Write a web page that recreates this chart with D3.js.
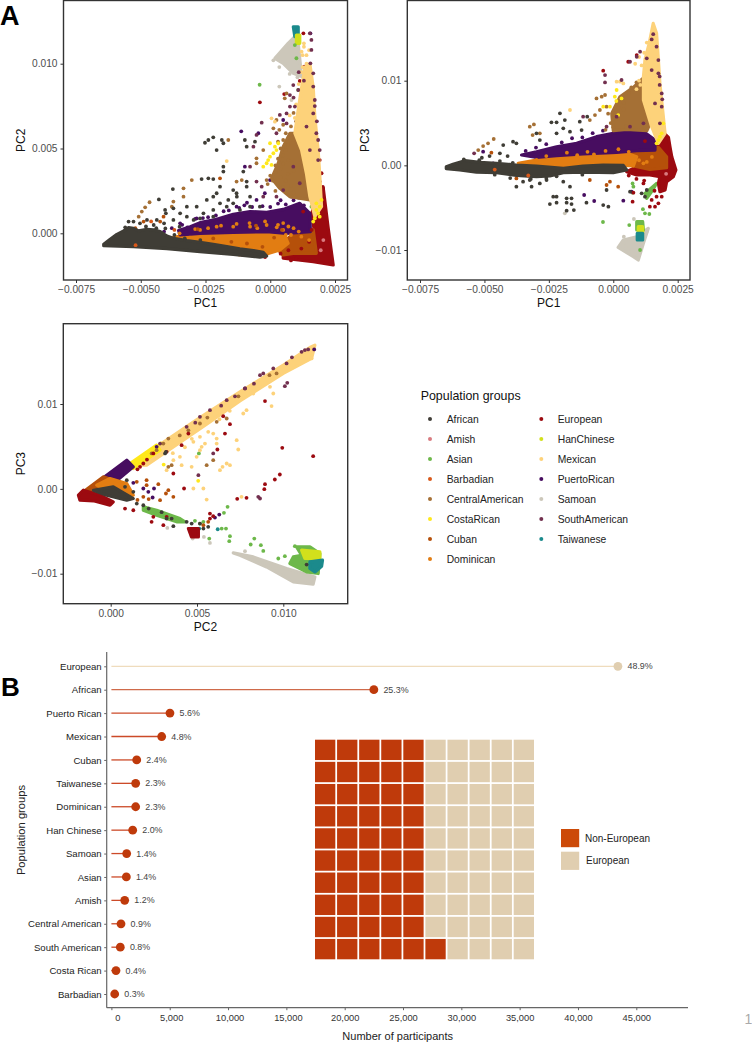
<!DOCTYPE html>
<html><head><meta charset="utf-8">
<script src="https://cdn.jsdelivr.net/npm/d3@7"></script>
<style>html,body{margin:0;padding:0;background:#fff}svg{display:block}text{font-family:"Liberation Sans",Arial,sans-serif}.cloud{filter:blur(.3px)}</style>
</head><body><svg id="c" width="752" height="1043"></svg>
<script>
// ---------- legend ----------
const groupNames = ["African","Amish","Asian","Barbadian","CentralAmerican","CostaRican","Cuban","Dominican","European","HanChinese","Mexican","PuertoRican","Samoan","SouthAmerican","Taiwanese"];
const groupColors = ["#3f3d36","#d97b80","#6db84a","#d9591a","#a57035","#ffe81a","#b5500a","#e27d12","#9c0a10","#d2e01c","#fdd27a","#470d60","#ccc7ba","#72304f","#1b8a8c"];

// ---------- PC1 / PC2 : dense regions (outlines) ----------
const african12Core = [[-0.00643,-0.00065],[-0.00618,-0.00035],[-0.00592,-0.00006],[-0.00566,0.00014],[-0.00547,0.00033],[-0.00528,0.00029],[-0.00508,0.00014],[-0.00476,0.00024],[-0.00451,0.0002],[-0.00425,0.0001],[-0.00399,-0.00016],[-0.00374,-0.00029],[-0.00322,-0.00043],[-0.00271,-0.00053],[-0.0022,-0.00065],[-0.00168,-0.00079],[-0.00117,-0.00092],[-0.00065,-0.00102],[-0.00027,-0.00112],[-0.00014,-0.00134],[-0.0004,-0.00141],[-0.00143,-0.00124],[-0.00271,-0.00108],[-0.00399,-0.0009],[-0.00528,-0.00079],[-0.00643,-0.00073]];
const puertoRican12Core = [[-0.00354,0.00016],[-0.00309,0.00039],[-0.00271,0.00063],[-0.00207,0.00083],[-0.00143,0.00112],[-0.00078,0.00128],[-0.00014,0.00124],[0.0005,0.00141],[0.00114,0.00177],[0.00153,0.00118],[0.00155,0.0001],[0.00063,0],[-0.00014,0.0001],[-0.00143,0.00006],[-0.00271,0],[-0.00348,-0.0001]];
const dominican12Core = [[-0.00374,-0.00024],[-0.00322,-0.0001],[-0.00271,0.0001],[-0.00207,0],[-0.00143,0.0001],[-0.00078,0.0001],[-0.00014,0.0002],[0.0005,0.0001],[0.00069,-0.00059],[0.00037,-0.00098],[-0.00014,-0.00122],[-0.00117,-0.00088],[-0.0022,-0.00059],[-0.00322,-0.00049]];
const cuban12Core = [[0.00024,-0.00088],[0.00076,-0.0002],[0.00166,0.0002],[0.00178,-0.00118],[0.00089,-0.00118],[0.0005,-0.00128]];
const european12Core = [[0.00159,0.00118],[0.00204,0.00275],[0.00223,0.00039],[0.00243,-0.00187],[0.00166,-0.00167],[0.0005,-0.00147],[0.0005,-0.00122],[0.00178,-0.00112],[0.00172,0]];
const centralAmerican12Core = [[0.00005,0.00324],[0.00031,0.00413],[0.0005,0.00511],[0.00076,0.0059],[0.00121,0.0059],[0.00153,0.00197],[0.00076,0.00216],[0.00037,0.00265]];
const mexican12Core = [[0.00095,0.0059],[0.00108,0.0073],[0.00121,0.0086],[0.00134,0.0098],[0.00153,0.0100],[0.00166,0.0086],[0.00172,0.0069],[0.00185,0.0049],[0.00191,0.0035],[0.00198,0.00157],[0.00172,0.00098],[0.00153,0.00216],[0.0014,0.0035],[0.00121,0.0049]];
const samoan12Core = [[0.00018,0.01032],[0.00069,0.0112],[0.00095,0.01159],[0.00108,0.0112],[0.00121,0.00924],[0.00089,0.00943],[0.0005,0.01002]];
const taiwanese12Core = [[0.00089,0.01218],[0.00108,0.01218],[0.00108,0.01159],[0.00095,0.01159]];
const han12Core = [[0.00101,0.01169],[0.00114,0.01169],[0.00114,0.0112],[0.00101,0.0112]];

// ---------- PC1 / PC2 : individual points ----------
const african12 = [[-0.00252,0.00534],[-0.00239,0.0055],[-0.0022,0.00566],[-0.00187,0.0055],[-0.00181,0.00531],[-0.00207,0.00491],[-0.00098,0.0055],[-0.00091,0.00511],[-0.00059,0.0054],[-0.00181,0.00393],[-0.00181,0.00364],[-0.00265,0.0032],[-0.00239,0.00324],[-0.0022,0.0032],[-0.00194,0.00275],[-0.00207,0.00236],[-0.0022,0.00216],[-0.00143,0.00255],[-0.0013,0.00236],[-0.00162,0.00197],[-0.00143,0.00177],[-0.00168,0.00157],[-0.0022,0.00138],[-0.00258,0.00118],[-0.00284,0.00157],[-0.00322,0.00157],[-0.00348,0.00118],[-0.00374,0.00147],[-0.00403,0.00118],[-0.00376,0.00261],[-0.0043,0.002],[-0.00406,0.00138],[-0.00438,0.00079],[-0.00476,0.00079],[-0.00528,0.00069],[-0.00547,0.00069],[-0.00374,0.00079],[-0.00322,0.00098],[-0.00296,0.00079],[-0.00271,0.00088],[-0.0022,0.00098],[-0.00117,0.00138],[-0.00078,0.00157],[-0.0004,0.00157],[-0.00104,0.00364],[-0.00091,0.00305],[-0.00129,0.00216],[-0.00078,0.00216],[-0.00091,0.00275],[-0.00245,0.00197],[-0.00194,0.00177],[-0.0045,0.00049],[-0.0041,0.00059],[-0.0035,0.00039],[-0.00405,0.00029],[-0.00503,0.00059],[-0.0056,0.00035],[-0.0048,0.0004],[-0.0044,0.0003],[-0.0037,-0.0001],[-0.0033,-0.0003],[-0.0027,-0.0004]];
const puertoRican12 = [[-0.00112,0.00601],[-0.00046,0.0059],[-0.00021,0.00236],[-0.00053,0.00197],[-0.00098,0.00393],[-0.00001,0.00314],[0.00063,0.00285],[-0.0013,0.00157],[-0.00348,0.00059],[-0.00284,0.00088],[-0.00464,-0.00079],[0.0005,0.00668],[0.00155,0.01179],[0.00082,0.00216],[0.00101,0.00246],[-0.0019,0.00085],[-0.0009,0.0018],[0.0004,0.00195],[-0.0032,0.00035],[-0.0029,0.00085],[-0.0024,0.00095],[-0.0021,0.00105],[-0.0018,0.0013],[-0.0016,0.00135],[-0.0012,0.0015],[-0.0010,0.00165],[-0.0007,0.00155],[-0.0003,0.0016],[0,0.00155],[0.0003,0.00175],[0.0006,0.0017],[0.0009,0.00195],[0.0011,0.0021],[0.0013,0.00165],[-0.0026,0.0009],[-0.0034,0.0005],[-0.0038,0.0003],[-0.0041,0.0001]];
const dominican12 = [[-0.00271,0.0002],[-0.00207,0.00039],[-0.00143,0.00039],[-0.00078,0.00039],[-0.00014,0.00049],[0.0005,0.0002],[-0.0031,-0.00025],[-0.0012,-0.00125],[0.00025,0.00035],[0.0008,-0.0001],[-0.0019,0.00045],[-0.0013,0.00055],[-0.0008,0.0006],[-0.0002,0.0007],[0.0003,0.0005],[0.0007,0.0004],[0.0011,0.0001],[0.0009,0.0003],[-0.0024,0.0003],[-0.0029,0.00025],[-0.0035,0],[-0.0039,-0.0003],[-0.0005,0.0003],[0.0005,0.0006],[0.0006,-0.0001],[0.0012,-0.0002],[0.0015,-0.0004]];
const cuban12 = [[-0.00425,0.00069],[-0.00489,0.00069],[-0.00521,0.0003],[-0.00412,0.00098],[-0.00194,0.00324],[-0.00374,-0.00069],[-0.00528,-0.00073],[-0.00271,-0.00098],[-0.00055,0.00045],[0.00015,-0.00025],[0.00045,0.0002],[-0.0028,0.00025],[-0.0022,-0.0003],[-0.0015,-0.0005],[-0.0009,-0.0006],[-0.0003,-0.0008]];
const european12 = [[-0.0004,0.00772],[0.00128,0.01179],[0.00054,0.00821],[0.00114,0.00898],[0.00131,0.00982],[0.00191,0.00432],[0.00185,0.00364],[0.00198,0.00354],[0.00191,0.00305],[0.00204,0.00265],[0.00204,0.00216],[0.00127,0.00128],[0.00153,0.00472],[-0.0011,-0.00125],[-0.0006,-0.0012],[0.0004,-0.0012],[0.0007,-0.0010],[0.0010,-0.0015],[0.0012,-0.0009],[0.0015,-0.0005],[0.0016,0.0002],[0.0017,0.0006],[0.0008,-0.0016],[-0.0002,-0.0014],[-0.001,-0.00115]];
const centralAmerican12 = [[-0.00508,0.00098],[-0.00496,0.00128],[-0.00483,0.00153],[-0.00466,0.00183],[-0.00162,0.0055],[-0.00303,0.00314],[-0.00335,0.00265],[-0.00335,0.00216],[-0.00374,0.00187],[-0.0038,0.00157],[-0.0013,0.00305],[-0.0011,0.00314],[-0.00053,0.00413],[-0.00053,0.00442],[0.00012,0.00619],[0.00024,0.00668],[0.00056,0.00796],[0.00063,0.00825],[-0.00027,0.00491],[-0.00014,0.00314],[0.00035,0.0061],[0.0005,0.0064],[0,0.0034],[0.0001,0.0031],[0.0003,0.0029],[0.0005,0.0027],[0.0002,0.0036],[0.0004,0.0033],[0.0006,0.0031],[0.0002,0.0040],[0.0004,0.0038],[0.0005,0.0041],[0.0003,0.0044],[0.0005,0.0046],[0.0007,0.0043],[0.0006,0.0049],[0.0004,0.0050],[0.0003,0.0054],[0.0005,0.0055],[0.0007,0.0052],[0.0008,0.0058],[0.0006,0.0059],[0.0008,0.0063],[0.0009,0.0055],[0.0009,0.0037],[0.0007,0.0035],[0.0008,0.0028],[0.0006,0.0024],[0.0009,0.0024],[-0.0001,0.0029],[0.0002,0.0025],[0.0010,0.0061],[0.0010,0.0066],[0.0009,0.0071]];
const mexican12 = [[-0.00168,0.00426],[0.00005,0.00678],[0.00018,0.00658],[0.00121,0.01071],[0.0013,0.0110],[0.00125,0.0098],[0.00118,0.0078],[0.00095,0.0068],[0.00075,0.00695],[0.00125,0.0105],[0.0013,0.0112],[0.0014,0.0105],[0.0014,0.0100],[0.0012,0.0095],[0.0011,0.0088],[0.0015,0.0108],[0.0010,0.0076],[0.0011,0.0070],[0.0013,0.0078]];
const costaRican12 = [[-0.00027,0.00393],[-0.00014,0.00413],[-0.00001,0.00452],[0.00012,0.00472],[0.00024,0.00491],[-0.00001,0.00531],[0.00018,0.00511],[0.00031,0.00531],[-0.00008,0.00432],[0.00005,0.00403],[0.00178,0.00138],[0.00191,0.00157],[0.00185,0.00118],[0.00172,0.00088],[0.00198,0.00197],[0.00191,0.00098],[0.00166,0.00069],[0.00178,0.00177]];
const southAmerican12 = [[0.00153,0.01179],[0.00159,0.0114],[0.00159,0.01081],[0.00155,0.01002],[0.00166,0.00943],[0.00166,0.00865],[0.00172,0.00786],[0.00166,0.00707],[0.00178,0.0059],[0.00191,0.00491],[0.00185,0.00432],[0.00089,0.00874],[0.00108,0.00845],[0.00076,0.00815],[0.00076,0.00747],[0.00095,0.00747],[0.00063,0.00707],[0.00063,0.00648],[0.00037,0.00698],[0.00024,0.0059],[-0.00033,0.00652],[-0.00053,0.0058],[-0.00065,0.00511],[-0.00078,0.00393],[-0.00053,0.00305],[-0.00033,0.00275],[-0.00027,0.00216],[0.00024,0.00216],[0.0005,0.00255],[0.00089,0.00393],[0.00114,0.00295],[0.0014,0.00629],[0.00153,0.00491],[0.0011,0.0095],[0.0009,0.0080],[0.0013,0.0090],[0.00172,0.0075],[0.0018,0.0066],[0.00185,0.0055]];
const asian12 = [[-0.00041,0.00876],[0.00095,0.0111],[0.00101,0.01032],[0.00121,0.00688],[0.00127,0.00383],[0.00134,0.00314],[0.0014,0.00255],[0.00159,0.00157],[0.00108,0.00845]];
const samoan12 = [[0.00035,0.00865],[0.00082,0.00786],[0.00075,0.0094],[0.00012,0.0102],[0.00035,0.0098],[0.00105,0.0092]];
const barbadian12 = [[-0.0046,0.0007],[-0.0037,0.0002],[-0.0052,-0.0007]];
const amish12 = [[0.00195,-0.0010],[0.00205,-0.0004]];

// ---------- PC1 / PC3 : dense regions ----------
const african13Core = [[-0.00648,-0.00016],[-0.00622,0.00012],[-0.00576,0.00055],[-0.00518,0.00035],[-0.00453,0.00024],[-0.00376,0.00004],[-0.00298,-0.00008],[-0.00194,-0.00035],[-0.00117,-0.00008],[-0.00039,0.00004],[0.00039,0],[0.00052,-0.00055],[0,-0.00087],[-0.00117,-0.00079],[-0.00194,-0.00087],[-0.00246,-0.00126],[-0.00298,-0.00134],[-0.00376,-0.00118],[-0.00453,-0.00087],[-0.00531,-0.00079],[-0.00596,-0.00055],[-0.00648,-0.00039]];
const dominican13Core = [[-0.00369,0.00024],[-0.00298,0.00063],[-0.0022,0.00102],[-0.00117,0.00122],[-0.00013,0.00122],[0.00052,0.00142],[0.00091,0.00102],[0.00078,-0.00008],[0.00013,0.00004],[-0.00117,-0.00008],[-0.00194,-0.00028],[-0.00298,-0.00008]];
const puertoRican13Core = [[-0.00356,0.00122],[-0.00298,0.00161],[-0.0022,0.0022],[-0.00142,0.0026],[-0.00065,0.00339],[0,0.00378],[0.00065,0.00417],[0.00117,0.00398],[0.00162,0.00299],[0.00162,0.00181],[0.00091,0.00173],[0.00013,0.00154],[-0.00117,0.00134],[-0.0022,0.00114],[-0.00298,0.00094]];
const cuban13Core = [[0.00052,0.00142],[0.00117,0.00213],[0.00175,0.00213],[0.00207,0.00102],[0.00207,-0.00028],[0.00142,-0.00047],[0.00078,-0.00008]];
const european13Core = [[0.00168,0.0022],[0.00188,0.00299],[0.00201,0.0037],[0.00214,0.00331],[0.0022,0.0022],[0.00227,0.00102],[0.00243,-0.00055],[0.00233,-0.00134],[0.00207,-0.00193],[0.00201,-0.00291],[0.00181,-0.00311],[0.00175,-0.00213],[0.00181,-0.00134],[0.00142,-0.00114],[0.00091,-0.00114],[0.00052,-0.00075],[0.00078,-0.00035],[0.00142,-0.00055],[0.00207,-0.00035],[0.00207,0.00102]];
const centralAmerican13Core = [[-0.00006,0.00614],[0.00026,0.00811],[0.00078,0.00921],[0.00119,0.01039],[0.00149,0.00535],[0.0013,0.00409],[0.00052,0.00425],[0,0.00409]];
const mexican13Core = [[0.00123,0.0125],[0.0014,0.0145],[0.00155,0.01677],[0.00168,0.01559],[0.00175,0.0125],[0.00181,0.00968],[0.00201,0.00378],[0.00175,0.0026],[0.00149,0.00457],[0.00117,0.00772],[0.00117,0.01047]];
const samoan13Core = [[0.00019,-0.00969],[0.00039,-0.00882],[0.00091,-0.00843],[0.00136,-0.00744],[0.00117,-0.00921],[0.00097,-0.01118],[0.00078,-0.01079]];
const asian13Core = [[0.00091,-0.00665],[0.00114,-0.00665],[0.00117,-0.00764],[0.00091,-0.00764]];
const asian13Streak = [[0.00123,-0.00331],[0.00168,-0.00213],[0.00149,-0.00311],[0.0013,-0.0039]];
const han13Core = [[0.00097,-0.00724],[0.00114,-0.00724],[0.00114,-0.00803],[0.00097,-0.00803]];
const taiwanese13Core = [[0.00093,-0.00803],[0.00114,-0.00803],[0.00114,-0.00882],[0.00093,-0.00882]];

// ---------- PC1 / PC3 : individual points ----------
const african13 = [[-0.00207,0.00614],[-0.0024,0.00508],[-0.0022,0.00508],[-0.00188,0.00535],[-0.00194,0.00437],[-0.0013,0.00516],[-0.00123,0.00417],[-0.00101,0.00575],[-0.00168,0.00398],[-0.0022,0.00378],[-0.00285,0.00299],[-0.00376,0.0026],[-0.00389,0.0028],[-0.00427,0.0024],[-0.0044,0.00142],[-0.00298,0.00378],[-0.00376,-0.00252],[-0.00324,-0.00173],[-0.00317,-0.00252],[-0.00285,-0.00213],[-0.00233,-0.0037],[-0.0022,-0.0037],[-0.00246,-0.00457],[-0.0022,-0.00441],[-0.00181,-0.0039],[-0.00162,-0.0039],[-0.00181,-0.00441],[-0.00162,-0.00457],[-0.00181,-0.00535],[-0.00153,-0.00528],[-0.00104,-0.00441],[-0.00039,-0.00469],[-0.00019,-0.00488],[-0.00194,-0.00193],[-0.00168,-0.00252],[-0.00259,-0.00173],[-0.00026,-0.00291],[0.0011,-0.00331],[0.0013,-0.00291],[0.00123,-0.0037],[0.00065,-0.00311],[-0.0035,-0.00193],[-0.0048,0.0011],[-0.0051,0.0009],[-0.0041,0.0011],[-0.0058,0.0007],[-0.0052,0.0006],[-0.0046,-0.0011],[-0.0040,-0.0015],[-0.0032,-0.0016],[-0.0026,-0.0015],[-0.0022,-0.0013],[-0.0012,-0.0011],[-0.0044,0.0005],[-0.0039,0.0003]];
const centralAmerican13 = [[-0.00524,0.00181],[-0.00505,0.00228],[-0.00486,0.0026],[-0.00464,0.00311],[-0.00324,0.00457],[-0.00308,0.00484],[-0.00313,0.00358],[-0.00285,0.00378],[-0.00065,0.00791],[-0.00045,0.00811],[-0.00032,0.00831],[-0.00052,0.00654],[-0.00071,0.00594],[-0.00091,0.00535],[-0.00026,0.00693],[-0.0001,0.0050],[0.0001,0.0055],[0,0.0045],[0.0002,0.0060],[0.0004,0.0066],[0.0002,0.0068],[0.0004,0.0074],[0.0006,0.0085],[0.0003,0.0080],[0.0007,0.0092],[0.0009,0.0098],[-0.0002,0.0061],[0.0005,0.0046],[-0.0003,0.0042]];
const southAmerican13 = [[0.00149,0.01488],[0.00168,0.01402],[0.00175,0.01244],[0.00175,0.01087],[0.00188,0.0085],[0.00188,0.00693],[0.00181,0.00496],[0.00104,0.01343],[0.00091,0.01283],[0.00065,0.01224],[0.00032,0.01008],[-0.00032,0.0098],[-0.00032,0.01067],[0.0013,0.01264],[0.00149,0.01126],[0.00162,0.00732],[-0.00117,0.00575],[-0.00026,0.00457],[0.00013,0.00575],[0.00065,0.00457],[0.00117,0.00496],[-0.0054,0.00142],[0.0018,0.0105],[0.0018,0.0095],[0.0019,0.0078],[0.00155,0.0155]];
const european13 = [[-0.00039,0.01118],[0.00058,0.01224],[0.00091,0.01303],[0.00123,0.00287],[0.00155,0.01323],[0.00078,-0.00323],[0.00075,-0.00429],[0.00149,-0.00409],[0.00162,-0.00488],[0.00142,-0.00488],[0.00175,-0.00449],[0.00168,-0.0037],[0.00117,-0.00213],[0.00188,-0.0037],[0.0006,-0.0012],[0.0009,-0.0016],[0.0012,-0.0018],[0.0016,-0.0030],[0.0019,-0.0025]];
const puertoRican13 = [[-0.00113,-0.0035],[-0.00074,-0.00421],[0.00039,-0.00417],[0.0011,0.00496],[0.00071,-0.00311],[-0.00466,0.00024],[-0.00505,0.00161],[-0.0030,0.0021],[-0.0026,0.0025],[-0.0020,0.0027],[-0.0016,0.0032],[-0.0012,0.0033],[-0.0008,0.0038],[-0.0004,0.0041],[0.0002,0.0043],[0.0006,0.0045],[0.0010,0.0046],[-0.0034,0.0017]];
const cuban13 = [[-0.00376,-0.00154],[0.00019,-0.00252],[-0.00013,-0.00193],[-0.00026,-0.00232],[-0.00091,-0.00173],[-0.00473,0.0015],[-0.00479,-0.00055],[-0.00401,-0.00075],[-0.00259,-0.00095],[-0.00363,-0.00115]];
const dominican13 = [[-0.00298,0.00063],[0.00078,0.00024],[0.00117,0.00024],[-0.00075,0.0013],[-0.0026,0.0011],[-0.0018,0.0015],[-0.0010,0.0016],[-0.0003,0.0017],[0.0006,0.0016],[0.0002,0.0019],[-0.0014,0.0012],[0.0010,0.0006],[0.0013,0.0004],[0.0015,0.0010]];
const asian13 = [[-0.0004,-0.00669],[0.00075,-0.00213],[0.00078,-0.00252],[0.00075,-0.00323],[0.00123,-0.00567],[0.0014,-0.00575],[0.00062,-0.00705],[0.00104,-0.01],[0.00115,-0.00518]];
const samoan13 = [[0.0008,-0.00634],[0.00041,-0.00843],[-0.00188,-0.00567],[0.0013,-0.0078],[0.0005,-0.0095],[0.0006,-0.0102]];
const mexican13 = [[-0.00168,0.00654],[0.00026,0.00988],[0.00039,0.00968],[0.00013,0.00988],[0.00085,0.0120],[0.00105,0.0095],[0.0012,0.0133],[0.0013,0.0145],[0.0010,0.0128],[0.0014,0.0140],[0.0011,0.0118],[0.0010,0.0100],[0.0009,0.0090]];
const costaRican13 = [[0.00013,0.0089],[0.00006,0.00811],[-0.00013,0.00693],[-0.00039,0.00693],[0.00032,0.00791],[0.00019,0.00594],[0.00194,0.00496],[0.00188,0.00378],[0.00175,0.00299],[0.00168,0.0026],[0.00181,0.00339],[0.00012,0.0076]];
const barbadian13 = [[-0.0046,-0.0005],[-0.0033,-0.0012]];
const amish13 = [[0.00205,-0.0010]];

// ---------- PC2 / PC3 : dense regions ----------
const mexican23Core = [[0.00131,0.00279],[0.00266,0.00495],[0.00517,0.00841],[0.00749,0.01143],[0.01,0.01458],[0.01154,0.01666],[0.01183,0.01694],[0.01164,0.01537],[0.01,0.0136],[0.00749,0.01037],[0.00556,0.00762],[0.00363,0.00495],[0.00208,0.00279]];
const costaRican23Core = [[0.00112,0.00299],[0.00266,0.00515],[0.00286,0.00456],[0.00131,0.0024]];
const puertoRican23Core = [[-0.00062,0.00102],[0.00093,0.00338],[0.00131,0.00259],[0.00015,0.00063]];
const cuban23Core = [[-0.00158,-0.00035],[-0.00042,0.00141],[0.00015,0.00102],[0.00073,0.00024],[-0.00004,-0.00055],[-0.001,-0.00075]];
const dominican23Core = [[-0.00081,0.00043],[-0.00004,0.00122],[0.00093,0.00063],[0.00131,-0.00075],[0.00035,-0.00094]];
const european23Core = [[-0.00187,-0.00075],[-0.00158,-0.00016],[-0.00062,-0.00075],[0.00015,-0.00153],[-0.00004,-0.00193],[-0.001,-0.00141],[-0.00178,-0.00134]];
const european23Blob = [[0.0045,-0.00468],[0.00508,-0.00468],[0.00508,-0.00566],[0.00468,-0.00566]];
const african23Core = [[-0.001,-0.00016],[0.00015,0.00024],[0.00131,-0.00114],[0.00093,-0.00134],[-0.00023,-0.00075]];
const asian23Band = [[0.00189,-0.00212],[0.00266,-0.00252],[0.00401,-0.0035],[0.0043,-0.00389],[0.00382,-0.00389],[0.00266,-0.0031],[0.00189,-0.00252]];
const samoan23Core = [[0.0071,-0.00755],[0.00826,-0.00802],[0.01019,-0.00939],[0.01183,-0.01038],[0.01173,-0.01124],[0.01058,-0.01096],[0.00903,-0.0092],[0.00749,-0.00782]];
const asian23Core = [[0.01077,-0.00684],[0.01154,-0.00684],[0.01212,-0.00762],[0.01202,-0.00998],[0.01135,-0.00979],[0.01038,-0.0088],[0.01058,-0.00802],[0.01106,-0.00782]];
const han23Core = [[0.01106,-0.00723],[0.01212,-0.00743],[0.01212,-0.00821],[0.01125,-0.00821]];
const taiwanese23Core = [[0.01154,-0.00861],[0.01227,-0.00841],[0.01222,-0.00912],[0.01183,-0.00979],[0.01154,-0.00939]];

// ---------- PC2 / PC3 : individual points ----------
const mexican23 = [[0.00479,0.00554],[0.00517,0.00613],[0.00565,0.00672],[0.00594,0.00652],[0.00614,0.00593],[0.00614,0.00534],[0.00546,0.00534],[0.00517,0.00456],[0.00498,0.00377],[0.00527,0.00495],[0.0073,0.00574],[0.00739,0.00464],[0.00691,0.00279],[0.00633,0.0022],[0.00648,0.00259],[0.00672,0.00299],[0.00469,0.00259],[0.00411,0.00279],[0.00401,0.00377],[0.00363,0.00338],[0.00324,0.0022],[0.00479,0.00004],[0.00537,0.00004],[0.00556,-0.00126],[0.00768,0.00888],[0.00787,0.00927],[0.00932,0.00975],[0.00923,0.01203],[0.00942,0.01124],[0.00826,0.01124],[0.00758,-0.00094],[0.01164,0.01537],[0.0063,0.0082],[0.0069,0.0092],[0.0043,0.0049],[0.0036,0.0042],[0.0047,0.0059]];
const european23 = [[0.00894,0.01034],[0.00994,0.00483],[0.01173,0.00385],[0.0098,0.00169],[0.00951,0.0011],[0.0089,-0.00004],[0.00894,0.00055],[0.00787,-0.00106],[0.00733,-0.00118],[0.00691,0.00762],[0.00662,0.00652],[0.00618,0.00464],[0.00575,-0.00291],[0.00594,-0.00322],[0.00575,-0.0035],[0.00425,0.00004],[0.00363,0.00181],[0.00411,0.00515],[0.0045,0.00652],[0.00652,0.00857],[0.00247,-0.0033],[0.00237,-0.00389],[0.00305,-0.00428],[0.00324,-0.0033],[0.00131,-0.00252],[0.00083,-0.00232],[0.00189,0.00299],[0.0017,0.00259],[0.00247,0.00417],[0.00324,0.00436],[0.0021,0.00345],[0.00155,0.0023]];
const southAmerican23 = [[0.01125,0.01635],[0.01144,0.01643],[0.01106,0.01615],[0.01019,0.01478],[0.01009,0.0121],[0.01023,0.0125],[0.00865,0.0134],[0.00884,0.0136],[0.00778,0.01183],[0.00672,0.01045],[0.00575,0.00927],[0.0044,0.00731],[0.00517,0.00849],[0.00855,-0.00094],[0.00865,-0.00114],[0.00594,0.00417],[0.00508,0.00161],[0.00286,0.00534],[0.00942,0.01419],[0.0064,0.0098],[0.0072,0.0109],[0.0083,0.0124],[0.0105,0.0155],[0.0049,0.0078]];
const centralAmerican23 = [[0.00556,0.00279],[0.00594,0.00338],[0.00334,0.00259],[0.00353,0.00279],[0.00305,0.00534],[0.00266,0.00456],[0.00237,0.00417],[0.00334,0.00593],[0.00517,0.0077],[0.00614,0.0079],[0.00672,0.00829],[0.00961,0.0136],[0.0040,0.0063],[0.0045,0.0069],[0.0056,0.0084],[0.0074,0.0109],[0.0092,0.0134]];
const puertoRican23 = [[0.01179,0.01643],[0.00266,0.00495],[0.00131,0.00071],[0.00189,0.00004],[0.00218,-0.00035],[0.00243,-0.00102],[0.00251,0.00004],[0.00604,-0.00338],[0.00629,-0.00303],[0.00778,0.01183]];
const cuban23 = [[0.00208,0.00102],[0.00208,0.00043],[0.00151,0.00083],[0.00276,0.00055],[0.0032,-0.00055],[0.00363,-0.00094],[0.00286,-0.00134],[0.00537,-0.00428],[0.00565,-0.00389],[0.00189,-0.00094],[0.00334,-0.00016],[0.00155,-0.0013],[0.0022,-0.0012]];
const african23 = [[0.00151,-0.00173],[0.00189,-0.00193],[0.00324,-0.0035],[0.00353,-0.0035],[0.00315,0.00417],[0.00363,-0.0044],[0.0044,-0.00389],[0.00469,-0.00409],[0.00517,-0.00409],[0.00537,-0.00468],[0.00565,-0.00448],[0.01135,-0.00892],[0.0032,0.00436],[0.00083,0.00024],[0.00131,-0.00035],[0.00093,0.00102],[0.0022,-0.00232],[0.00295,-0.00275]];
const asian23 = [[0.00677,-0.00212],[0.00656,-0.00283],[0.00643,-0.00468],[0.00668,-0.00468],[0.00691,-0.00558],[0.00687,-0.00617],[0.00571,-0.00586],[0.00832,-0.00586],[0.00811,-0.00656],[0.0087,-0.00664],[0.00884,-0.00731],[0.00511,0.00417],[0.00971,-0.00821],[0.01009,-0.00794],[0.01067,-0.00676],[0.00517,-0.00409],[0.00488,-0.00377],[0.00537,-0.00389]];
const samoan23 = [[0.00778,-0.00735],[0.00575,-0.00637],[0.00475,-0.00586],[0.0054,-0.00566],[0.00328,-0.0046]];
const taiwanese23 = [[0.0062,-0.00476],[0.00513,-0.00468]];
const costaRican23 = [[0.00307,0.00286],[0.00507,0.00094],[0.0027,0.0046],[0.0029,0.00535]];

// ---------- B : lollipop ----------
const lollipopGroups = ["European","African","Puerto Rican","Mexican","Cuban","Taiwanese","Dominican","Han Chinese","Samoan","Asian","Amish","Central American","South American","Costa Rican","Barbadian"];
const participants = [43424,22500,5020,4310,2170,2080,2080,1825,1310,1280,1140,823,763,394,283];
const shareLabels = ["48.9%","25.3%","5.6%","4.8%","2.4%","2.3%","2.3%","2.0%","1.4%","1.4%","1.2%","0.9%","0.8%","0.4%","0.3%"];
const countTicks = [0,5000,10000,15000,20000,25000,30000,35000,40000,45000];

// ---------- B : waffle ----------
const waffleNames = ["Non-European","European"];
const waffleCounts = [51,49];
const waffleColors = ["#bf3a0b","#e0ceb0"];
const waffleKeyColors = ["#cc4a08","#e0ceb0"];

// ---------- layers (drawn bottom to top) ----------
const layers12 = [["Samoan",[samoan12Core],samoan12],["Taiwanese",[taiwanese12Core],[]],["HanChinese",[han12Core],[]],["Asian",[],asian12],["European",[european12Core],[]],["Cuban",[cuban12Core],[]],["Dominican",[dominican12Core],[]],["PuertoRican",[puertoRican12Core],puertoRican12],["European",[],european12],["Dominican",[],dominican12],["Cuban",[],cuban12],["CentralAmerican",[centralAmerican12Core],centralAmerican12],["Mexican",[mexican12Core],mexican12],["CostaRican",[],costaRican12],["SouthAmerican",[],southAmerican12],["Amish",[],amish12],["African",[african12Core],african12],["Barbadian",[],barbadian12]];
const layers13 = [["Samoan",[samoan13Core],samoan13],["Asian",[asian13Core,asian13Streak],asian13],["HanChinese",[han13Core],[]],["Taiwanese",[taiwanese13Core],[]],["European",[european13Core],[]],["Cuban",[cuban13Core],[]],["Dominican",[dominican13Core],[]],["PuertoRican",[puertoRican13Core],puertoRican13],["Dominican",[],dominican13],["European",[],european13],["CentralAmerican",[centralAmerican13Core],centralAmerican13],["Mexican",[mexican13Core],mexican13],["CostaRican",[],costaRican13],["SouthAmerican",[],southAmerican13],["Amish",[],amish13],["Cuban",[],cuban13],["African",[african13Core],african13],["Barbadian",[],barbadian13]];
const layers23 = [["Samoan",[samoan23Core],samoan23],["Asian",[asian23Band,asian23Core],asian23],["HanChinese",[han23Core],[]],["Taiwanese",[taiwanese23Core],taiwanese23],["Mexican",[mexican23Core],mexican23],["CostaRican",[costaRican23Core],costaRican23],["PuertoRican",[puertoRican23Core],puertoRican23],["Cuban",[cuban23Core],cuban23],["Dominican",[dominican23Core],[]],["CentralAmerican",[],centralAmerican23],["SouthAmerican",[],southAmerican23],["European",[european23Core,european23Blob],european23],["African",[african23Core],african23]];

// ---------- drawing ----------
const svg = d3.select("#c");
const color = d3.scaleOrdinal(groupNames, groupColors);
const minus = s => s.replace("-", "\u2212");

function panel(cfg) {
  const x = d3.scaleLinear().domain(cfg.xDom).range(cfg.xRange);
  const y = d3.scaleLinear().domain(cfg.yDom).range(cfg.yRange);
  const g = svg.append("g").attr("class", "cloud");
  const line = d3.line().x(d => x(d[0])).y(d => y(d[1])).curve(d3.curveLinearClosed);
  cfg.layers.forEach(([name, cores, pts]) => {
    g.append("g").selectAll("path").data(cores).join("path").attr("d", line)
      .attr("fill", color(name)).attr("stroke", color(name)).attr("stroke-width", 3.2).attr("stroke-linejoin", "round");
    g.append("g").selectAll("circle").data(pts).join("circle")
      .attr("cx", d => x(d[0])).attr("cy", d => y(d[1])).attr("r", 1.9).attr("fill", color(name));
  });
  svg.append("rect").attr("x", cfg.frame[0]).attr("y", cfg.frame[1]).attr("width", cfg.frame[2]-cfg.frame[0]).attr("height", cfg.frame[3]-cfg.frame[1])
    .attr("fill", "none").attr("stroke", "#333").attr("stroke-width", 1.4);
  const ax = svg.append("g").attr("transform", `translate(0,${cfg.frame[3]})`)
    .call(d3.axisBottom(x).tickValues(cfg.xTicks).tickSize(3).tickPadding(3).tickFormat(d => minus(d3.format(cfg.xFmt)(d))));
  const ay = svg.append("g").attr("transform", `translate(${cfg.frame[0]},0)`)
    .call(d3.axisLeft(y).tickValues(cfg.yTicks).tickSize(3).tickPadding(3).tickFormat(d => minus(d3.format(cfg.yFmt)(d))));
  [ax, ay].forEach(a => {
    a.select(".domain").remove();
    a.selectAll(".tick line").attr("stroke", "#333");
    a.selectAll("text").attr("font-size", 10.2).attr("fill", "#4d4d4d").attr("font-family", "Liberation Sans");
  });
  svg.append("text").attr("x", (cfg.frame[0]+cfg.frame[2])/2).attr("y", cfg.frame[3]+27).attr("text-anchor", "middle").attr("font-size", 12).attr("fill", "#111").text(cfg.xTitle);
  svg.append("text").attr("transform", `translate(${cfg.yTitleX},${(cfg.frame[1]+cfg.frame[3])/2}) rotate(-90)`).attr("text-anchor", "middle").attr("font-size", 12).attr("fill", "#111").text(cfg.yTitle);
}

panel({layers:layers12, xDom:[-0.0075,0.0025], xRange:[76,335], yDom:[0,0.01], yRange:[233.3,63.7], frame:[63.5,0.5,347.5,280],
  xTicks:[-0.0075,-0.005,-0.0025,0,0.0025], yTicks:[0,0.005,0.01], xFmt:".4f", yFmt:".3f", xTitle:"PC1", yTitle:"PC2", yTitleX:25});
panel({layers:layers13, xDom:[-0.0075,0.0025], xRange:[420,677.7], yDom:[-0.01,0.01], yRange:[250,80.7], frame:[407.3,0.5,690,280],
  xTicks:[-0.0075,-0.005,-0.0025,0,0.0025], yTicks:[-0.01,0,0.01], xFmt:".4f", yFmt:".2f", xTitle:"PC1", yTitle:"PC3", yTitleX:369});
panel({layers:layers23, xDom:[0,0.01], xRange:[110.7,283.3], yDom:[-0.01,0.01], yRange:[573.7,404], frame:[63.3,323.7,347.7,603.7],
  xTicks:[0,0.005,0.01], yTicks:[-0.01,0,0.01], xFmt:".3f", yFmt:".2f", xTitle:"PC2", yTitle:"PC3", yTitleX:25});

// legend
svg.append("text").attr("x", 420.7).attr("y", 400).attr("font-size", 12.4).attr("fill", "#111").text("Population groups");
const leg = svg.append("g").selectAll("g").data(groupNames).join("g")
  .attr("transform", (d, i) => `translate(${i < 8 ? 430 : 541.3},${419 + (i < 8 ? i : i - 8) * 20})`);
leg.append("circle").attr("r", 2).attr("fill", d => color(d));
leg.append("text").attr("x", (d, i) => i < 8 ? 16.7 : 16.4).attr("dy", "0.35em").attr("font-size", 10.3).attr("fill", "#222").text(d => d);

// panel letters & page number
svg.append("text").attr("x", 0).attr("y", 25).attr("font-size", 27).attr("font-weight", 700).attr("fill", "#000").text("A");
svg.append("text").attr("x", 1).attr("y", 696).attr("font-size", 26).attr("font-weight", 700).attr("fill", "#000").text("B");
svg.append("text").attr("x", 744.5).attr("y", 1024).attr("font-size", 14).attr("fill", "#aaa").text("1");

// lollipop
const bx = d3.scaleLinear().domain([0,45000]).range([111.4,636.3]);
const by = d3.scalePoint().domain(lollipopGroups).range([666.3,994]);
const lineCol = i => i === 0 ? "#efdcbd" : i === 1 ? "#cf6a4a" : "#cc4a28";
const rows = svg.append("g").selectAll("g").data(lollipopGroups).join("g");
rows.append("line").attr("x1", bx(0)).attr("x2", (d,i) => bx(participants[i])).attr("y1", d => by(d)).attr("y2", d => by(d)).attr("stroke", (d,i) => lineCol(i)).attr("stroke-width", 1.3);
rows.append("circle").attr("cx", (d,i) => bx(participants[i])).attr("cy", d => by(d)).attr("r", 4.4).attr("fill", (d,i) => i === 0 ? "#e0ceb0" : "#bf3a0b");
rows.append("text").attr("x", (d,i) => bx(participants[i]) + 9.6).attr("y", d => by(d)).attr("dy", "0.35em").attr("font-size", 8.9).attr("fill", "#444").text((d,i) => shareLabels[i]);
const axL = svg.append("g").attr("transform", "translate(106.7,0)").call(d3.axisLeft(by).tickSize(2.5).tickPadding(2.5));
axL.select(".domain").remove();
svg.append("line").attr("x1",106.7).attr("x2",106.7).attr("y1",652).attr("y2",1007.7).attr("stroke","#666").attr("stroke-width",1.2);
const axB = svg.append("g").attr("transform", "translate(0,1007.7)").call(d3.axisBottom(bx).tickValues(countTicks).tickSize(2.5).tickPadding(4).tickFormat(d3.format(",")));
axB.select(".domain").remove();
svg.append("line").attr("x1",106.7).attr("x2",688).attr("y1",1007.7).attr("y2",1007.7).attr("stroke","#666").attr("stroke-width",1.2);
axL.selectAll("text").attr("font-size", 9.6).attr("fill", "#222").attr("font-family", "Liberation Sans");
axB.selectAll("text").attr("font-size", 9.3).attr("fill", "#333").attr("font-family", "Liberation Sans");
axB.selectAll(".tick").filter(d => d === 0).select("text").attr("dx", 6);
axB.selectAll(".tick").filter(d => d > 0 && d < 20000).select("text").attr("dx", 1.5);
[axL, axB].forEach(a => a.selectAll(".tick line").attr("stroke", "#666"));
svg.append("text").attr("x", 397.7).attr("y", 1040).attr("text-anchor", "middle").attr("font-size", 11).attr("fill", "#222").text("Number of participants");
svg.append("text").attr("transform", "translate(25,830) rotate(-90)").attr("text-anchor", "middle").attr("font-size", 11.2).attr("fill", "#222").text("Population groups");

// waffle
const wx = d3.scaleBand().domain(d3.range(10)).range([315,534]).paddingInner(0.08);
const wy = d3.scaleBand().domain(d3.range(10)).range([739.7,959.3]).paddingInner(0.08);
const cells = d3.range(d3.sum(waffleCounts));
svg.append("g").selectAll("rect").data(cells).join("rect")
  .attr("x", i => wx(Math.floor(i / 10))).attr("y", i => wy(9 - i % 10))
  .attr("width", wx.bandwidth()).attr("height", wy.bandwidth())
  .attr("fill", i => i < waffleCounts[0] ? waffleColors[0] : waffleColors[1]);
const wk = svg.append("g").selectAll("g").data(waffleNames).join("g").attr("transform", (d,i) => `translate(561,${829 + i * 22.7})`);
wk.append("rect").attr("width", 18.2).attr("height", 18.2).attr("fill", (d,i) => waffleKeyColors[i]);
wk.append("text").attr("x", (d,i) => i ? 25 : 24).attr("y", 9).attr("dy", "0.35em").attr("font-size", 10).attr("fill", "#222").text(d => d);
</script></body></html>
